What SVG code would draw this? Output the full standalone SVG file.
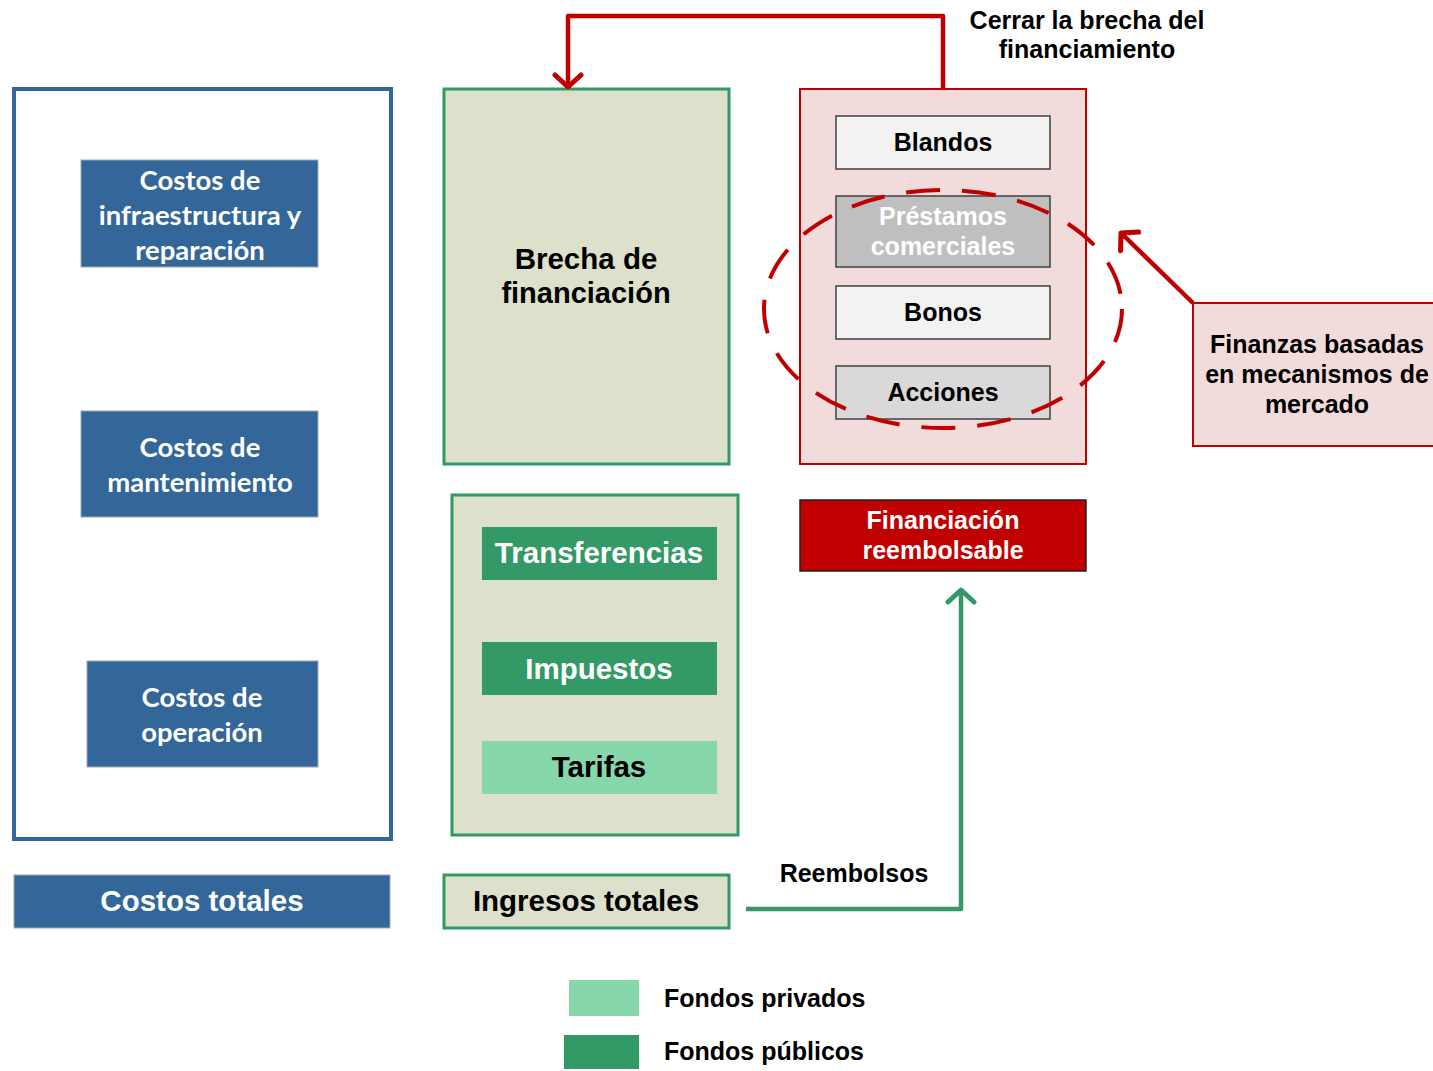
<svg xmlns="http://www.w3.org/2000/svg" width="1433" height="1071" viewBox="0 0 1433 1071">
<defs>
<style>
text{font-family:"Liberation Sans",Arial,sans-serif;font-weight:bold;text-anchor:middle;dominant-baseline:central}
.cal{font-family:Lato,"Open Sans",sans-serif;font-weight:bold;fill:#fff;font-size:27.5px}
.blue{fill:#336699}
.beige{fill:#dde0cb;stroke:#339966;stroke-width:3}
.pink{fill:#f2dcdb;stroke:#c00000;stroke-width:2}
.sub{stroke:#404040;stroke-width:1.5}
.t22{font-size:25px;fill:#000}
.t28{font-size:29.5px}
.red{fill:none;stroke:#c00000;stroke-width:4.5;stroke-linejoin:round}
.grn{fill:none;stroke:#339966;stroke-width:4.5;stroke-linejoin:round}
</style>
<marker id="ar" markerUnits="userSpaceOnUse" markerWidth="32" markerHeight="32" refX="16" refY="16" orient="auto" viewBox="0 0 32 32"><path d="M4,3 L16,16 L4,29" fill="none" stroke="#c00000" stroke-width="5" stroke-linecap="round" stroke-linejoin="round"/></marker>
<marker id="ag" markerUnits="userSpaceOnUse" markerWidth="32" markerHeight="32" refX="16" refY="16" orient="auto" viewBox="0 0 32 32"><path d="M4,3 L16,16 L4,29" fill="none" stroke="#339966" stroke-width="5" stroke-linecap="round" stroke-linejoin="round"/></marker>
</defs>
<rect width="1433" height="1071" fill="#fff"/>

<g id="costos-container"><rect x="14" y="89" width="377" height="750" fill="#fff" stroke="#336699" stroke-width="4"/></g>
<g id="costos-infra"><rect class="blue" x="81" y="160" width="237" height="107" stroke="#a0a8b0" stroke-width="1"/><text class="cal" x="200" y="179">Costos de</text><text class="cal" x="200" y="214">infraestructura y</text><text class="cal" x="200" y="249">reparación</text></g>
<g id="costos-mant"><rect class="blue" x="81" y="411" width="237" height="106" stroke="#a0a8b0" stroke-width="1"/><text class="cal" x="200" y="446">Costos de</text><text class="cal" x="200" y="481">mantenimiento</text></g>
<g id="costos-oper"><rect class="blue" x="87" y="661" width="231" height="106" stroke="#a0a8b0" stroke-width="1"/><text class="cal" x="202" y="696">Costos de</text><text class="cal" x="202" y="731">operación</text></g>
<g id="costos-totales"><rect class="blue" x="14" y="875" width="376" height="53" stroke="#a0a8b0" stroke-width="1"/><text class="t28" x="202" y="900" fill="#fff">Costos totales</text></g>

<g id="brecha"><rect class="beige" x="444" y="89" width="285" height="375"/><text x="586" y="258" font-size="29.5" fill="#000">Brecha de</text><text x="586" y="293" font-size="29" fill="#000">financiación</text></g>
<g id="ingresos-container"><rect class="beige" x="452" y="495" width="286" height="340"/></g>
<g id="transferencias"><rect x="482" y="527" width="235" height="53" fill="#339966"/><text class="t28" x="599" y="552" fill="#fff">Transferencias</text></g>
<g id="impuestos"><rect x="482" y="642" width="235" height="53" fill="#339966"/><text class="t28" x="599" y="668" fill="#fff">Impuestos</text></g>
<g id="tarifas"><rect x="482" y="741" width="235" height="53" fill="#86d7ac"/><text class="t28" x="599" y="766" fill="#000">Tarifas</text></g>
<g id="ingresos-totales"><rect class="beige" x="444" y="875" width="285" height="53"/><text class="t28" x="586" y="900" fill="#000">Ingresos totales</text></g>

<g id="mercado"><rect class="pink" x="800" y="89" width="286" height="375"/></g>
<g id="blandos"><rect class="sub" x="836" y="116" width="214" height="53" fill="#f2f2f2"/><text class="t22" x="943" y="142">Blandos</text></g>
<g id="prestamos"><rect class="sub" x="836" y="196" width="214" height="71" fill="#bfbfbf"/><text class="t22" x="943" y="216" style="fill:#fff">Préstamos</text><text class="t22" x="943" y="246" style="fill:#fff">comerciales</text></g>
<g id="bonos"><rect class="sub" x="836" y="286" width="214" height="53" fill="#f2f2f2"/><text class="t22" x="943" y="312">Bonos</text></g>
<g id="acciones"><rect class="sub" x="836" y="366" width="214" height="53" fill="#d9d9d9"/><text class="t22" x="943" y="392">Acciones</text></g>
<g id="circulo"><ellipse cx="943" cy="309" rx="179" ry="119" fill="none" stroke="#c00000" stroke-width="4" stroke-dasharray="34 22"/></g>
<g id="finanzas"><rect class="pink" x="1193" y="303" width="250" height="143"/><text class="t22" x="1317" y="344">Finanzas basadas</text><text class="t22" x="1317" y="374">en mecanismos de</text><text class="t22" x="1317" y="404">mercado</text></g>
<g id="reembolsable"><rect x="800" y="500" width="286" height="71" fill="#c00000" stroke="#222" stroke-width="1.5"/><text class="t22" x="943" y="520" style="fill:#fff">Financiación</text><text class="t22" x="943" y="550" style="fill:#fff">reembolsable</text></g>

<g id="connectors">
<path class="red" d="M943,89 V16 H568 V87" marker-end="url(#ar)"/>
<path class="red" d="M1193,303 L1121,233" marker-end="url(#ar)"/>
<path class="grn" d="M746,909 H961 V590" marker-end="url(#ag)"/>
</g>
<g id="labels">
<text class="t22" x="1087" y="20">Cerrar la brecha del</text>
<text class="t22" x="1087" y="49">financiamiento</text>
<text class="t22" x="854" y="873">Reembolsos</text>
</g>
<g id="legend">
<rect x="569" y="980" width="70" height="36" fill="#86d7ac"/>
<rect x="564" y="1035" width="75" height="34" fill="#339966"/>
<text class="t22" x="664" y="998" style="text-anchor:start">Fondos privados</text>
<text class="t22" x="664" y="1051" style="text-anchor:start">Fondos públicos</text>
</g>
</svg>
